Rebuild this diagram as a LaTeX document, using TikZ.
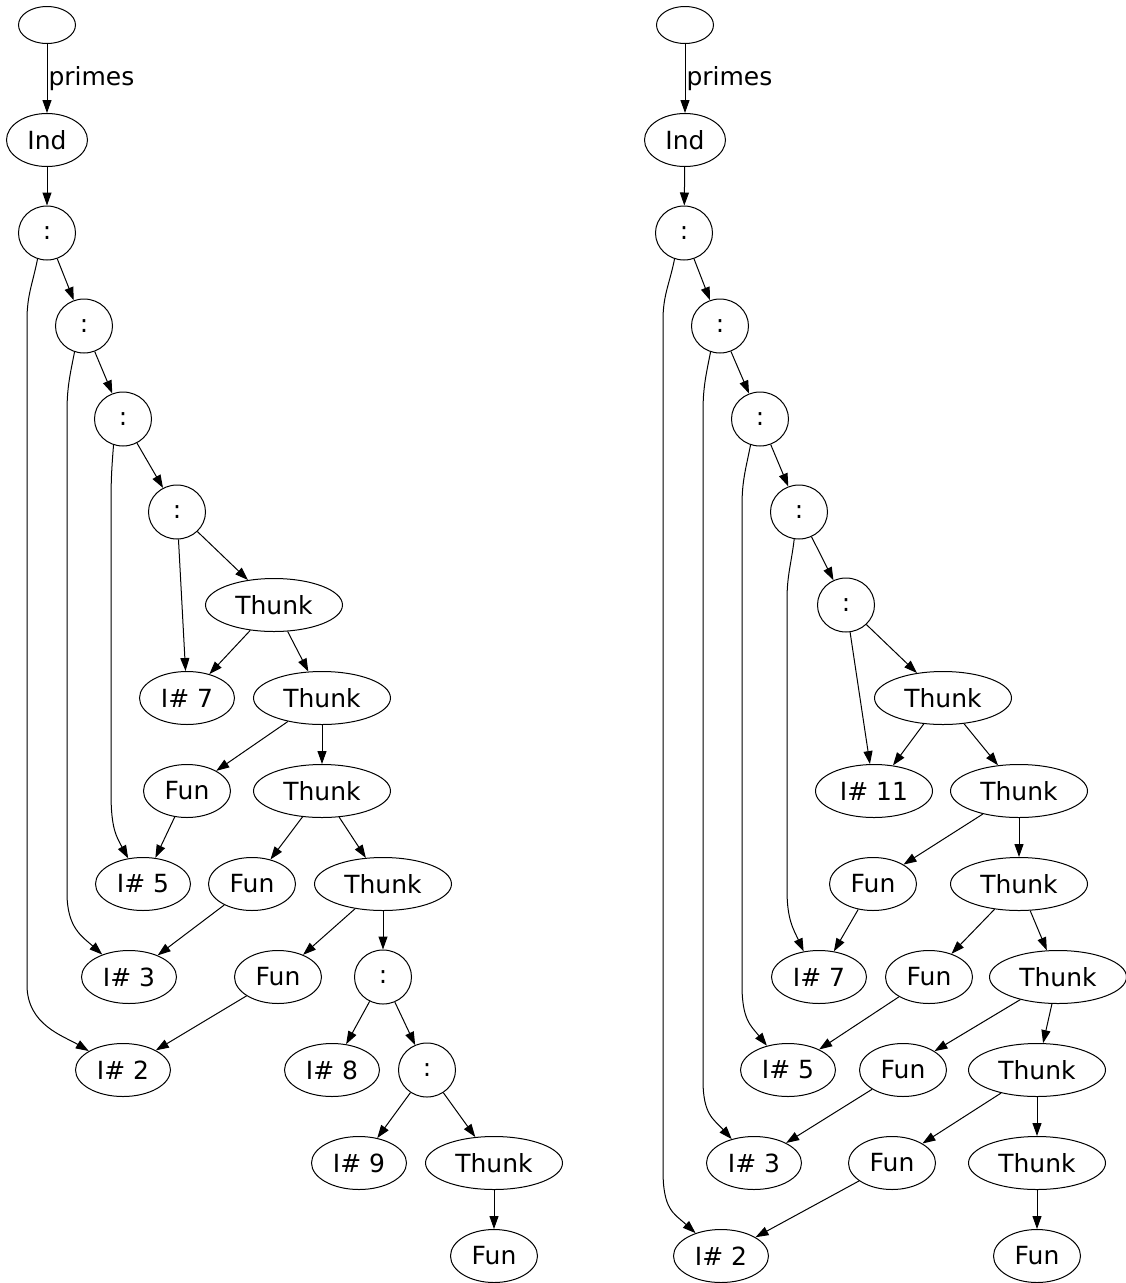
\documentclass[tikz,border=0pt]{standalone}
\usepackage{fontspec}
\setmainfont{DejaVu Sans}
\usetikzlibrary{arrows.meta,shapes.geometric}
\tikzset{
  nd/.style={draw, ellipse, line width=1pt, inner sep=0pt, minimum height=53pt,
             font=\fontsize{25}{30}\selectfont},
  empty/.style={nd, minimum width=57pt, minimum height=37pt},
  ind/.style={nd, minimum width=81pt},
  cons/.style={nd, minimum width=57pt, minimum height=54pt},
  thunk/.style={nd, minimum width=137pt},
  fun/.style={nd, minimum width=87pt},
  int/.style={nd, minimum width=95pt},
  arr/.style={-{Triangle[length=13pt,width=9pt]}, line width=1pt},
  lab/.style={anchor=west, inner sep=1pt, font=\fontsize{25}{30}\selectfont}
}
\begin{document}
\begin{tikzpicture}[x=1pt, y=-1pt]
  \useasboundingbox (0,0) rectangle (1126,1283);

  % left heap
  \node[empty] (le)   at (47,25)    {};
  \node[ind]   (lind) at (47,140)   {Ind};
  \node[cons]  (lc1)  at (47,233)   {:};
  \node[cons]  (lc2)  at (84,326)   {:};
  \node[cons]  (lc3)  at (123,419)  {:};
  \node[cons]  (lc4)  at (177,512)  {:};
  \node[thunk] (lt1)  at (274,605)  {Thunk};
  \node[int]   (li7)  at (187,698)  {I\# 7};
  \node[thunk] (lt2)  at (322,698)  {Thunk};
  \node[fun]   (lf1)  at (187,791)  {Fun};
  \node[thunk] (lt3)  at (322,791)  {Thunk};
  \node[int]   (li5)  at (143,884)  {I\# 5};
  \node[fun]   (lf2)  at (252,884)  {Fun};
  \node[thunk] (lt4)  at (383,884)  {Thunk};
  \node[int]   (li3)  at (129,977)  {I\# 3};
  \node[fun]   (lf3)  at (278,977)  {Fun};
  \node[cons]  (lc5)  at (383,977)  {:};
  \node[int]   (li2)  at (123,1070) {I\# 2};
  \node[int]   (li8)  at (332,1070) {I\# 8};
  \node[cons]  (lc6)  at (427,1070) {:};
  \node[int]   (li9)  at (359,1163) {I\# 9};
  \node[thunk] (lt5)  at (494,1163) {Thunk};
  \node[fun]   (lf4)  at (494,1256) {Fun};

  \draw[arr] (le) -- node[lab] {primes} (lind);
  \draw[arr] (lind) -- (lc1);
  \draw[arr] (lc1) -- (lc2);
  \draw[arr] (lc2) -- (lc3);
  \draw[arr] (lc3) -- (lc4);
  \draw[arr] (lc4) -- (lt1);
  \draw[arr] (lc4) -- (li7);
  \draw[arr] (lc1.250) .. controls +(-5,25) and +(0,-25) .. (27,320) -- (27,985)
    .. controls +(0,40) and +(-25,-15) .. (li2.151);
  \draw[arr] (lc2.250) .. controls +(-5,25) and +(0,-25) .. (67,413) -- (67,893)
    .. controls +(0,35) and +(-20,-18) .. (li3.140);
  \draw[arr] (lc3.250) .. controls +(-2,25) and +(0,-25) .. (111,506) -- (111,793)
    .. controls +(0,35) and +(-12,-22) .. (li5.120);
  \draw[arr] (lt1) -- (li7);
  \draw[arr] (lt1) -- (lt2);
  \draw[arr] (lt2) -- (lf1);
  \draw[arr] (lt2) -- (lt3);
  \draw[arr] (lf1) -- (li5);
  \draw[arr] (lt3) -- (lf2);
  \draw[arr] (lt3) -- (lt4);
  \draw[arr] (lf2) -- (li3);
  \draw[arr] (lt4) -- (lf3);
  \draw[arr] (lt4) -- (lc5);
  \draw[arr] (lf3) -- (li2);
  \draw[arr] (lc5) -- (li8);
  \draw[arr] (lc5) -- (lc6);
  \draw[arr] (lc6) -- (li9);
  \draw[arr] (lc6) -- (lt5);
  \draw[arr] (lt5) -- (lf4);

  % right heap
  \node[empty] (re)   at (685,25)    {};
  \node[ind]   (rind) at (685,140)   {Ind};
  \node[cons]  (rc1)  at (684,233)   {:};
  \node[cons]  (rc2)  at (720,326)   {:};
  \node[cons]  (rc3)  at (760,419)   {:};
  \node[cons]  (rc4)  at (799,512)   {:};
  \node[cons]  (rc5)  at (846,605)   {:};
  \node[thunk] (rt1)  at (943,698)   {Thunk};
  \node[int, minimum width=117pt] (ri11) at (874,791) {I\# 11};
  \node[thunk] (rt2)  at (1019,791)  {Thunk};
  \node[fun]   (rf1)  at (873,884)   {Fun};
  \node[thunk] (rt3)  at (1019,884)  {Thunk};
  \node[int]   (ri7)  at (819,977)   {I\# 7};
  \node[fun]   (rf2)  at (929,977)   {Fun};
  \node[thunk] (rt4)  at (1058,977)  {Thunk};
  \node[int]   (ri5)  at (788,1070)  {I\# 5};
  \node[fun]   (rf3)  at (903,1070)  {Fun};
  \node[thunk] (rt5)  at (1037,1070) {Thunk};
  \node[int]   (ri3)  at (754,1163)  {I\# 3};
  \node[fun]   (rf4)  at (892,1163)  {Fun};
  \node[thunk] (rt6)  at (1037,1163) {Thunk};
  \node[int]   (ri2)  at (721,1256)  {I\# 2};
  \node[fun]   (rf5)  at (1037,1256) {Fun};

  \draw[arr] (re) -- node[lab] {primes} (rind);
  \draw[arr] (rind) -- (rc1);
  \draw[arr] (rc1) -- (rc2);
  \draw[arr] (rc2) -- (rc3);
  \draw[arr] (rc3) -- (rc4);
  \draw[arr] (rc4) -- (rc5);
  \draw[arr] (rc5) -- (rt1);
  \draw[arr] (rc5) -- (ri11);
  \draw[arr] (rc1.250) .. controls +(-5,25) and +(0,-25) .. (663,320) -- (663,1170)
    .. controls +(0,40) and +(-22,-20) .. (ri2.138);
  \draw[arr] (rc2.250) .. controls +(-5,25) and +(0,-25) .. (703,413) -- (703,1080)
    .. controls +(0,35) and +(-18,-20) .. (ri3.133);
  \draw[arr] (rc3.250) .. controls +(-5,25) and +(0,-25) .. (742,506) -- (742,985)
    .. controls +(0,35) and +(-16,-20) .. (ri5.131);
  \draw[arr] (rc4.260) .. controls +(-3,25) and +(0,-25) .. (787,600) -- (787,890)
    .. controls +(0,30) and +(-10,-22) .. (ri7.121);
  \draw[arr] (rt1) -- (ri11);
  \draw[arr] (rt1) -- (rt2);
  \draw[arr] (rt2) -- (rf1);
  \draw[arr] (rt2) -- (rt3);
  \draw[arr] (rf1) -- (ri7);
  \draw[arr] (rt3) -- (rf2);
  \draw[arr] (rt3) -- (rt4);
  \draw[arr] (rf2) -- (ri5);
  \draw[arr] (rt4) -- (rf3);
  \draw[arr] (rt4) -- (rt5);
  \draw[arr] (rf3) -- (ri3);
  \draw[arr] (rt5) -- (rf4);
  \draw[arr] (rt5) -- (rt6);
  \draw[arr] (rf4) -- (ri2);
  \draw[arr] (rt6) -- (rf5);
\end{tikzpicture}
\end{document}
